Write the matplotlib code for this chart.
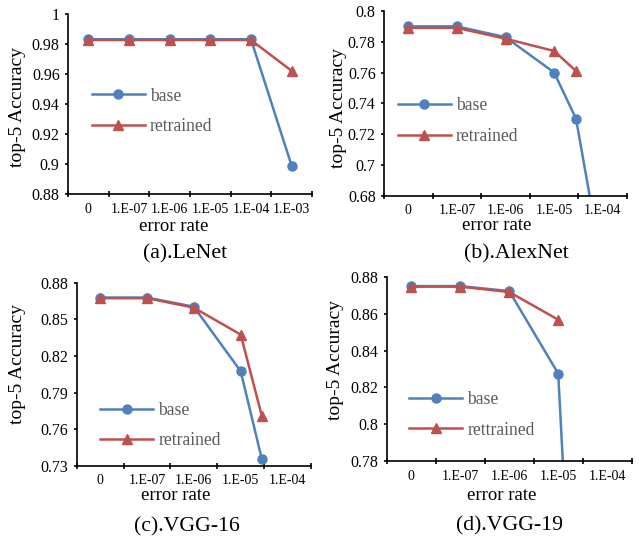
import matplotlib
matplotlib.use('Agg')
import matplotlib.pyplot as plt

plt.rcParams['font.family'] = ['Liberation Serif', 'DejaVu Serif']

BLUE = '#4F81BD'
RED = '#C0504D'

# category labels
cats_a = ['0', '1.E-07', '1.E-06', '1.E-05', '1.E-04', '1.E-03']
cats_b = ['0', '1.E-07', '1.E-06', '1.E-05', '1.E-04']

# (a) LeNet
lenet_x = [0, 1, 2, 3, 4, 5]
lenet_base = [0.983, 0.983, 0.983, 0.983, 0.983, 0.899]
lenet_retr = [0.9825, 0.9825, 0.9825, 0.9825, 0.9825, 0.962]

# (b) AlexNet
alex_base_x = [0, 1, 2, 3, 3.45, 4]
alex_base = [0.790, 0.790, 0.783, 0.760, 0.730, 0.632]
alex_retr_x = [0, 1, 2, 3, 3.45]
alex_retr = [0.789, 0.789, 0.782, 0.774, 0.761]

# (c) VGG-16
vgg16_x = [0, 1, 2, 3, 3.45]
vgg16_base = [0.868, 0.868, 0.8605, 0.8075, 0.7355]
vgg16_retr = [0.8675, 0.8675, 0.8597, 0.8376, 0.771]

# (d) VGG-19
vgg19_base_x = [0, 1, 2, 3, 3.45]
vgg19_base = [0.8749, 0.8749, 0.8722, 0.8275, 0.60]
vgg19_retr_x = [0, 1, 2, 3]
vgg19_retr = [0.8746, 0.8746, 0.8717, 0.8567]

fig = plt.figure(figsize=(6.39, 5.36), dpi=100)


def panel(rect, cats, bx, by, rx, ry, ylim, ystep, retr_label, leg_xy):
    ax = fig.add_axes(rect)
    ax.plot(bx, by, color=BLUE, lw=1.8, marker='o', ms=6.5, label='base')
    ax.plot(rx, ry, color=RED, lw=1.8, marker='^', ms=6.5, label=retr_label)
    n = len(cats)
    ax.set_xlim(-0.5, n - 0.5)
    ax.set_ylim(*ylim)
    yt = []
    v = ylim[0]
    while v <= ylim[1] + 1e-9:
        yt.append(round(v, 3))
        v += ystep
    ax.set_yticks(yt)
    ax.set_yticklabels([format(t, 'g') for t in yt], fontsize=11.5)
    ax.set_xticks([i - 0.5 for i in range(n + 1)])
    ax.set_xticklabels([])
    ax.set_xticks(range(n), minor=True)
    ax.set_xticklabels(cats, minor=True, fontsize=10)
    ax.tick_params(axis='x', which='major', direction='inout', length=4, width=1.2)
    ax.tick_params(axis='x', which='minor', length=0, pad=6)
    ax.tick_params(axis='y', direction='out', length=2.5, width=1.2, pad=3.5)
    for s in ['top', 'right']:
        ax.spines[s].set_visible(False)
    for s in ['left', 'bottom']:
        ax.spines[s].set_linewidth(1.2)
    leg = ax.legend(loc='center left', bbox_to_anchor=leg_xy, frameon=False,
                    fontsize=12.7, handlelength=3.0, handletextpad=0.3,
                    labelspacing=0.75, borderpad=0, borderaxespad=0)
    for t in leg.get_texts():
        t.set_color('#595959')
    return ax


panel([0.1064, 0.6375, 0.3818, 0.337], cats_a, lenet_x, lenet_base,
      lenet_x, lenet_retr, (0.88, 1.0), 0.02, 'retrained', (0.098, 0.46))
panel([0.601, 0.6349, 0.3803, 0.3446], cats_b, alex_base_x, alex_base,
      alex_retr_x, alex_retr, (0.68, 0.8), 0.02, 'retrained', (0.056, 0.404))
panel([0.12, 0.1312, 0.3667, 0.3409], cats_b, vgg16_x, vgg16_base,
      vgg16_x, vgg16_retr, (0.73, 0.88), 0.03, 'retrained', (0.10, 0.219))
panel([0.6052, 0.1394, 0.3834, 0.3444], cats_b, vgg19_base_x, vgg19_base,
      vgg19_retr_x, vgg19_retr, (0.78, 0.88), 0.02, 'rettrained', (0.092, 0.251))

W, H = 639.0, 536.0


def ftext(x, y, s, **kw):
    fig.text(x / W, 1 - y / H, s, ha='center', va='center', **kw)


# axis labels
for x, y in [(17.5, 106.7), (338.3, 107.5), (17.5, 363.8), (335.8, 360.5)]:
    ftext(x, y, 'top-5 Accuracy', rotation=90, fontsize=14)
for x, y in [(174, 226.7), (496.3, 225), (176, 495.5), (501.7, 495.5)]:
    ftext(x, y, 'error rate', fontsize=13.5)

# captions
ftext(185, 254, '(a).LeNet', fontsize=15.7)
ftext(516.5, 254, '(b).AlexNet', fontsize=15.7)
ftext(186.7, 527, '(c).VGG-16', fontsize=15.7)
ftext(509.7, 526.3, '(d).VGG-19', fontsize=15.7)

fig.savefig('out.png', dpi=100)
